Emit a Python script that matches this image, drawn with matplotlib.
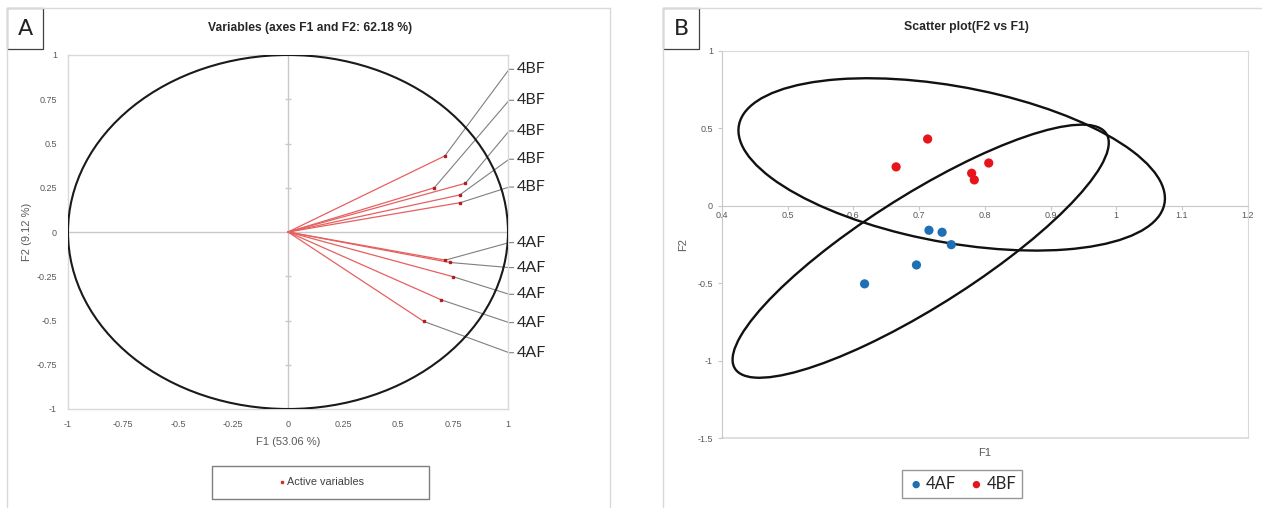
import numpy as np
import matplotlib
matplotlib.use("Agg")
import matplotlib.pyplot as plt
from matplotlib.patches import Circle, Ellipse, Rectangle
from matplotlib.lines import Line2D

# ---- factor coordinates (F1, F2) of the active variables ----
bf_f1 = [0.713, 0.665, 0.806, 0.780, 0.784]
bf_f2 = [0.430, 0.250, 0.275, 0.209, 0.166]
af_f1 = [0.715, 0.735, 0.749, 0.696, 0.617]
af_f2 = [-0.159, -0.172, -0.252, -0.383, -0.505]
bf_name = "4BF"
af_name = "4AF"

title_a = "Variables (axes F1 and F2: 62.18 %)"
title_b = "Scatter plot(F2 vs F1)"
xlabel_a = "F1 (53.06 %)"
ylabel_a = "F2 (9.12 %)"

ticks_a = [-1, -0.75, -0.5, -0.25, 0, 0.25, 0.5, 0.75, 1]
xticks_b = [0.4, 0.5, 0.6, 0.7, 0.8, 0.9, 1, 1.1, 1.2]
yticks_b = [-1.5, -1, -0.5, 0, 0.5, 1]

# F quantile F(0.95; 2, 3) used for the 95 % confidence ellipses
F_CRIT = 9.5521

W, H = 1262, 508
fig = plt.figure(figsize=(W / 100, H / 100), dpi=100)
fig.patch.set_facecolor("white")


def fx(px):
    return px / W


def fy(py):
    return 1 - py / H


TICK_COL = "#595959"
GRID_COL = "#c8c8c8"
FRAME_COL = "#d9d9d9"
RED_VEC = "#e66060"
BLUE = "#1f6fb5"
RED = "#e8141c"
SANS = "Liberation Sans"
LABFONT = "Lato"


def fmt(v):
    return "%g" % v


# ---- panel frames and letter boxes ----
for (x0, x1) in [(7, 610), (663, 1300)]:
    fig.add_artist(Line2D([fx(x0), fx(x1)], [fy(8), fy(8)], color=FRAME_COL, lw=1))
    fig.add_artist(Line2D([fx(x0), fx(x0)], [fy(8), fy(520)], color=FRAME_COL, lw=1))
fig.add_artist(Line2D([fx(610), fx(610)], [fy(8), fy(520)], color=FRAME_COL, lw=1))
for x0, letter in [(7, "A"), (663, "B")]:
    fig.add_artist(Rectangle((fx(x0), fy(49)), fx(36), 41 / H, transform=fig.transFigure,
                             fill=False, edgecolor="#404040", lw=0.9))
    fig.text(fx(x0 + 18), fy(29), letter, ha="center", va="center", fontsize=16,
             family="DejaVu Sans", color="#222222")

# ================= Panel A : correlation circle =================
axA = fig.add_axes([fx(68), fy(409), fx(508 - 68), (409 - 55) / H])
axA.set_xlim(-1, 1)
axA.set_ylim(-1, 1)
for sp in axA.spines.values():
    sp.set_color(FRAME_COL)
    sp.set_linewidth(1)
axA.set_xticks(ticks_a)
axA.set_yticks(ticks_a)
axA.set_xticklabels([fmt(t) for t in ticks_a])
axA.set_yticklabels([fmt(t) for t in ticks_a])
axA.tick_params(length=0, labelsize=6.5, labelcolor=TICK_COL, pad=8)
for lab in axA.get_xticklabels() + axA.get_yticklabels():
    lab.set_family(SANS)
axA.axhline(0, color=GRID_COL, lw=1, zorder=1)
axA.axvline(0, color=GRID_COL, lw=1, zorder=1)
# small tick marks along the vertical zero line
minor = [t for t in ticks_a if t not in (-1, 0, 1)]
axA.plot([0] * len(minor), minor, ls="none", marker="_", ms=4, color=GRID_COL, mew=1, zorder=1)

axA.add_patch(Circle((0, 0), 1, fill=False, edgecolor="#1a1a1a", lw=1.5, zorder=3))

axA.set_xlabel(xlabel_a, fontsize=8, color=TICK_COL, family=SANS, labelpad=6)
axA.set_ylabel(ylabel_a, fontsize=8, color=TICK_COL, family=SANS)
axA.yaxis.set_label_coords((32 - 68) / 440, 0.5)

# leader label anchors (right of the plot)
bf_lab_y = [0.919, 0.744, 0.571, 0.411, 0.254]
af_lab_y = [-0.060, -0.201, -0.352, -0.512, -0.682]

for xs, ys, lys, name in [(bf_f1, bf_f2, bf_lab_y, bf_name), (af_f1, af_f2, af_lab_y, af_name)]:
    for x, y, ly in zip(xs, ys, lys):
        axA.plot([0, x], [0, y], color=RED_VEC, lw=0.9, zorder=4, solid_capstyle="round")
        axA.plot([x], [y], ls="none", marker="s", ms=1.8, color="#b02020", zorder=5)
        axA.plot([x, 1.005, 1.025], [y, ly, ly], color="#7f7f7f", lw=0.8, zorder=2, clip_on=False)
        axA.text(1.04, ly, name, fontsize=11.5, family=LABFONT, color="#262626",
                 ha="left", va="center", clip_on=False)

fig.text(fx(310), fy(28), title_a, ha="center", va="center", fontsize=8.7,
         fontweight="bold", family=SANS, color="#262626")

# legend box of panel A
fig.add_artist(Rectangle((fx(212), fy(499)), fx(429 - 212), 33 / H, transform=fig.transFigure,
                         fill=False, edgecolor="#7f7f7f", lw=1))
fig.add_artist(Line2D([fx(282)], [fy(482)], ls="none", marker="s", ms=1.6, color="#d43030"))
fig.text(fx(287), fy(482), "Active variables", ha="left", va="center", fontsize=7.8,
         family=SANS, color="#404040")

# ================= Panel B : observations with confidence ellipses =================
axB = fig.add_axes([fx(722), fy(438), fx(1247.6 - 722), (438 - 50.7) / H])
axB.set_xlim(0.4, 1.2)
axB.set_ylim(-1.5, 1)
axB.spines["top"].set_color(FRAME_COL)
axB.spines["right"].set_color(FRAME_COL)
axB.spines["left"].set_color(GRID_COL)
axB.spines["bottom"].set_position(("data", 0))
axB.spines["bottom"].set_color(GRID_COL)
axB.axhline(-1.5, color=FRAME_COL, lw=1.2, clip_on=False)
axB.set_xticks(xticks_b)
axB.set_yticks(yticks_b)
axB.set_xticklabels([fmt(t) for t in xticks_b])
axB.set_yticklabels([fmt(t) for t in yticks_b])
axB.tick_params(axis="both", length=3, color=GRID_COL, labelsize=6.5, labelcolor=TICK_COL)
axB.tick_params(axis="x", pad=1)
for lab in axB.get_xticklabels() + axB.get_yticklabels():
    lab.set_family(SANS)
axB.set_xlabel("F1", fontsize=8, color=TICK_COL, family=SANS)
axB.xaxis.set_label_coords(0.5, -0.025)
axB.set_ylabel("F2", fontsize=8, color=TICK_COL, family=SANS)
axB.yaxis.set_label_coords((688 - 722) / 525.6, 0.5)


def confidence_ellipse(ax, x, y):
    x = np.asarray(x)
    y = np.asarray(y)
    n = len(x)
    cov = np.cov(x, y)
    vals, vecs = np.linalg.eigh(cov)
    k = 2 * (n - 1) * (n + 1) / (n * (n - 2)) * F_CRIT
    ang = np.degrees(np.arctan2(vecs[1, 1], vecs[0, 1]))
    e = Ellipse((x.mean(), y.mean()), 2 * np.sqrt(k * vals[1]), 2 * np.sqrt(k * vals[0]),
                angle=ang, fill=False, edgecolor="#111111", lw=1.7, zorder=3)
    ax.add_patch(e)


confidence_ellipse(axB, af_f1, af_f2)
confidence_ellipse(axB, bf_f1, bf_f2)

axB.scatter(af_f1, af_f2, s=44, color=BLUE, zorder=5, label=af_name, edgecolors="none")
axB.scatter(bf_f1, bf_f2, s=44, color=RED, zorder=5, label=bf_name, edgecolors="none")

fig.text(fx(966), fy(27), title_b, ha="center", va="center", fontsize=8.8,
         fontweight="bold", family=SANS, color="#262626")

leg = axB.legend(loc="center", bbox_to_anchor=(fx(962), fy(484)), bbox_transform=fig.transFigure,
                 ncol=2, frameon=True, fancybox=False, edgecolor="#7f7f7f", handletextpad=0.1,
                 columnspacing=0.7, handlelength=1.0, borderpad=0.35, markerscale=0.8,
                 prop={"family": LABFONT, "size": 12})
leg.get_frame().set_linewidth(1)
for t in leg.get_texts():
    t.set_color("#262626")

fig.savefig("out.png", dpi=100, facecolor="white")
